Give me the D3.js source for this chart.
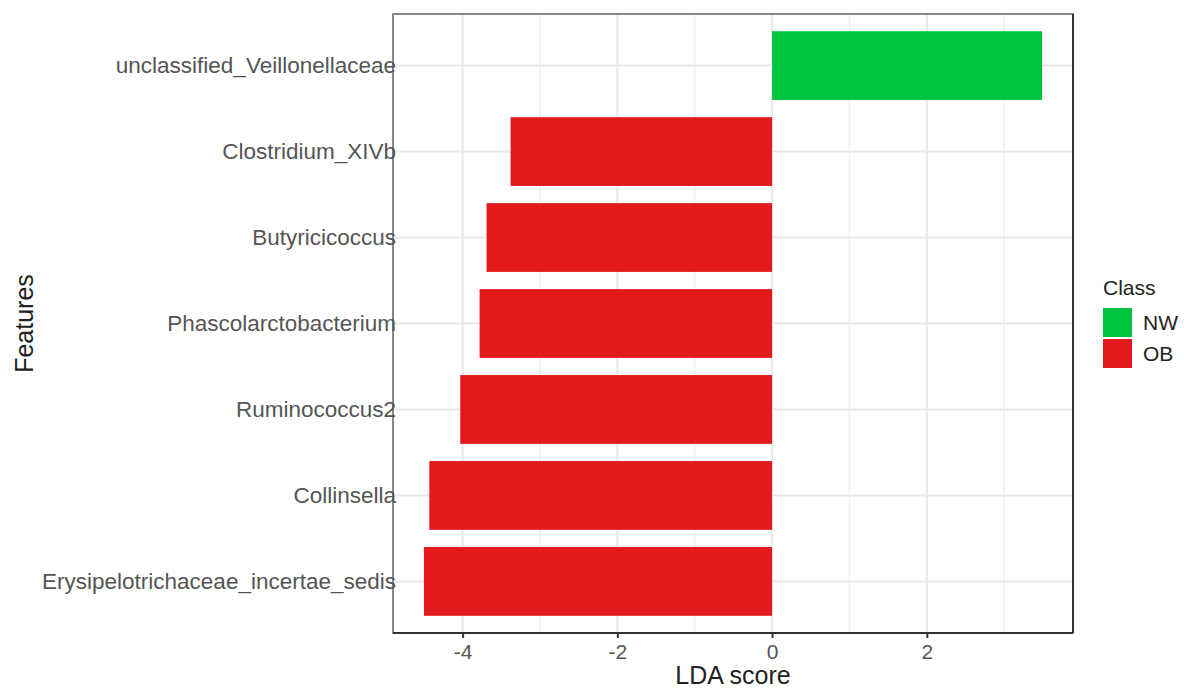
<!DOCTYPE html>
<html>
<head>
<meta charset="utf-8">
<script src="https://cdn.jsdelivr.net/npm/d3@7"></script>
<style>
  html, body { margin: 0; padding: 0; background: #fff; }
  svg { display: block; font-family: "Liberation Sans", Arial, sans-serif; }
</style>
</head>
<body>
<svg id="chart" width="1184" height="688"></svg>
<script>
// Features, top to bottom, with their LDA scores and enriched class
const features = [
  "unclassified_Veillonellaceae",
  "Clostridium_XIVb",
  "Butyricicoccus",
  "Phascolarctobacterium",
  "Ruminococcus2",
  "Collinsella",
  "Erysipelotrichaceae_incertae_sedis"
];
const ldaScores = [3.49, -3.38, -3.69, -3.78, -4.03, -4.43, -4.50];
const classes = ["NW", "OB", "OB", "OB", "OB", "OB", "OB"];

const classNames = ["NW", "OB"];
const classColors = ["#00C43F", "#E31A1C"];
const xTicks = [-4, -2, 0, 2];
const xMinorTicks = [-3, -1, 1, 3];

const svg = d3.select("#chart");
const panel = { left: 393, right: 1073, top: 14, bottom: 633 };

// continuous axis with 5% expansion around the data range
const ext = d3.extent(ldaScores.concat([0]));
const pad = (ext[1] - ext[0]) * 0.05;
const x = d3.scaleLinear()
  .domain([ext[0] - pad, ext[1] + pad])
  .range([panel.left, panel.right]);

const y = d3.scalePoint()
  .domain(features)
  .range([panel.top, panel.bottom])
  .padding(0.6);
const barH = y.step() * 0.8;

const color = d3.scaleOrdinal().domain(classNames).range(classColors);

// grid
const grid = svg.append("g");
grid.selectAll("line.minor").data(xMinorTicks).join("line")
  .attr("x1", d => x(d)).attr("x2", d => x(d))
  .attr("y1", panel.top).attr("y2", panel.bottom)
  .attr("stroke", "#efefef").attr("stroke-width", 1.5);
grid.selectAll("line.major").data(xTicks).join("line")
  .attr("x1", d => x(d)).attr("x2", d => x(d))
  .attr("y1", panel.top).attr("y2", panel.bottom)
  .attr("stroke", "#e8e8e8").attr("stroke-width", 2);
grid.selectAll("line.hy").data(features).join("line")
  .attr("x1", panel.left).attr("x2", panel.right)
  .attr("y1", d => y(d)).attr("y2", d => y(d))
  .attr("stroke", "#e8e8e8").attr("stroke-width", 2);

// bars
svg.append("g").selectAll("rect").data(features).join("rect")
  .attr("x", (d, i) => Math.min(x(0), x(ldaScores[i])))
  .attr("width", (d, i) => Math.abs(x(ldaScores[i]) - x(0)))
  .attr("y", d => y(d) - barH / 2)
  .attr("height", barH)
  .attr("fill", (d, i) => color(classes[i]));

// panel border
svg.append("rect")
  .attr("x", panel.left).attr("y", panel.top)
  .attr("width", panel.right - panel.left).attr("height", panel.bottom - panel.top)
  .attr("fill", "none").attr("stroke", "#6b6b6b").attr("stroke-width", 1.6);
svg.append("line")
  .attr("x1", panel.left).attr("x2", panel.right)
  .attr("y1", panel.bottom).attr("y2", panel.bottom)
  .attr("stroke", "#333").attr("stroke-width", 2);
svg.append("line")
  .attr("x1", panel.right).attr("x2", panel.right)
  .attr("y1", panel.top).attr("y2", panel.bottom)
  .attr("stroke", "#333").attr("stroke-width", 2);

// x axis
const xAxis = svg.append("g")
  .attr("transform", `translate(0,${panel.bottom})`)
  .call(d3.axisBottom(x).tickValues(xTicks).tickSize(5).tickPadding(6).tickFormat(d3.format("d")));
xAxis.select(".domain").remove();
xAxis.selectAll(".tick line").attr("stroke", "#333").attr("stroke-width", 2);
xAxis.selectAll(".tick text")
  .attr("fill", "#555").attr("font-size", 21)
  .attr("font-family", "Liberation Sans, Arial, sans-serif")
  .text(d => d < 0 ? "-" + Math.abs(d) : d);

// y labels
const yAxis = svg.append("g")
  .attr("transform", `translate(${panel.left + 3},0)`)
  .call(d3.axisLeft(y).tickSize(0).tickPadding(0));
yAxis.select(".domain").remove();
yAxis.selectAll(".tick text")
  .attr("fill", "#555").attr("font-size", 22.5)
  .attr("font-family", "Liberation Sans, Arial, sans-serif");

// titles
svg.append("text")
  .attr("x", (panel.left + panel.right) / 2).attr("y", 684)
  .attr("text-anchor", "middle").attr("font-size", 25).attr("fill", "#222")
  .text("LDA score");
svg.append("text")
  .attr("transform", `translate(33,${(panel.top + panel.bottom) / 2}) rotate(-90)`)
  .attr("text-anchor", "middle").attr("font-size", 25).attr("fill", "#222")
  .text("Features");

// legend
const legend = svg.append("g").attr("transform", "translate(1103,0)");
legend.append("text").attr("x", 0).attr("y", 295)
  .attr("font-size", 21).attr("fill", "#222").text("Class");
classNames.forEach((c, i) => {
  legend.append("rect")
    .attr("x", 0).attr("y", 308 + i * 31)
    .attr("width", 29).attr("height", 29)
    .attr("fill", color(c));
  legend.append("text")
    .attr("x", 40).attr("y", 308 + i * 31 + 22)
    .attr("font-size", 21).attr("fill", "#222").text(c);
});
</script>
</body>
</html>
